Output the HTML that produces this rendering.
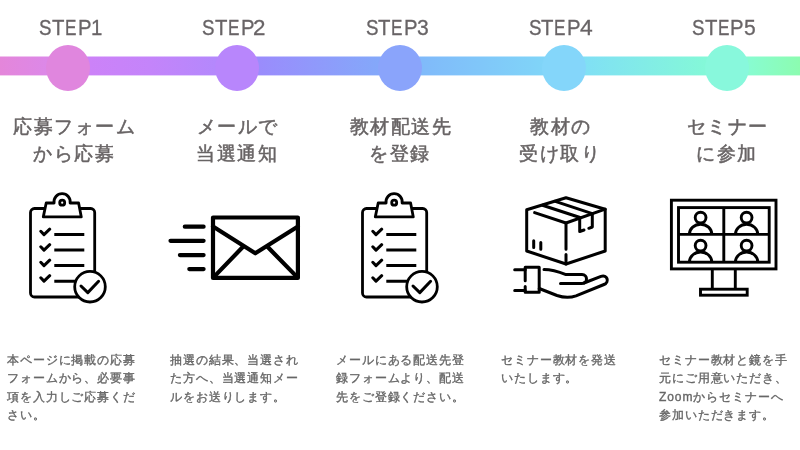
<!DOCTYPE html>
<html lang="ja">
<head>
<meta charset="utf-8">
<style>
html,body{margin:0;padding:0;background:#fff;}
body{width:800px;height:450px;overflow:hidden;position:relative;font-family:"Liberation Sans",sans-serif;color:#666;}
.st{position:absolute;left:0;top:14.8px;height:26px;width:800px;font-size:22.5px;line-height:26px;color:#686466;-webkit-text-stroke:0.3px #686466;}
.st span{position:absolute;top:0;transform-origin:0 0;white-space:pre;}
.ttl{position:absolute;top:113px;font-size:18.5px;letter-spacing:1.5px;text-indent:1.5px;line-height:27px;width:160px;text-align:center;color:#686465;white-space:nowrap;-webkit-text-stroke:0.5px #686465;}
.desc{position:absolute;top:351px;font-size:12px;letter-spacing:0.9px;line-height:18.3px;width:135px;color:#666;white-space:nowrap;-webkit-text-stroke:0.35px #666;}
svg{position:absolute;left:0;top:0;}
.st,.ttl,.desc{will-change:transform;}
</style>
</head>
<body>
<svg width="800" height="450" viewBox="0 0 800 450">
<defs>
<linearGradient id="g" x1="0" y1="0" x2="800" y2="0" gradientUnits="userSpaceOnUse">
<stop offset="0.0000" stop-color="#e486da"/>
<stop offset="0.0600" stop-color="#dc88e8"/>
<stop offset="0.1125" stop-color="#cc82f8"/>
<stop offset="0.1875" stop-color="#c484fa"/>
<stop offset="0.2687" stop-color="#b488fc"/>
<stop offset="0.3250" stop-color="#9a8cfc"/>
<stop offset="0.4725" stop-color="#84a8fa"/>
<stop offset="0.5275" stop-color="#80bafa"/>
<stop offset="0.6763" stop-color="#80d4f8"/>
<stop offset="0.7325" stop-color="#80e0f4"/>
<stop offset="0.8812" stop-color="#84f8d8"/>
<stop offset="0.9375" stop-color="#88fcd0"/>
<stop offset="1.0000" stop-color="#8cfcb0"/>
</linearGradient>
</defs>
<rect x="0" y="56.5" width="800" height="18.9" fill="url(#g)"/>
<ellipse cx="68" cy="68" rx="22" ry="23" fill="#e086de"/>
<ellipse cx="237" cy="68" rx="22" ry="23" fill="#b886fc"/>
<ellipse cx="400" cy="68" rx="22" ry="23" fill="#8aa4fb"/>
<ellipse cx="564" cy="68" rx="22" ry="23" fill="#84d6fa"/>
<ellipse cx="727" cy="68" rx="22" ry="23" fill="#88f8dc"/>

<!-- clipboard 1 -->
<g fill="none" stroke="#000" stroke-width="2.8" stroke-linecap="round" stroke-linejoin="round">
<rect x="30.5" y="208.5" width="64.2" height="88.5" rx="4"/>
<path d="M43.3 216.9 L46.2 203 L54.1 203 A8.1 8.1 0 1 1 70.1 203 L78.6 203 L81.3 216.9 Z" fill="#fff"/>
<circle cx="62.2" cy="202.7" r="2.5"/>
<path d="M40.8 231.3 L44 234.6 L49.7 229.2 M40.8 246.8 L44 250.1 L49.7 244.7 M40.8 262.3 L44 265.6 L49.7 260.2 M40.8 277.8 L44 281.1 L49.7 275.7" stroke-width="3"/>
<path d="M54.3 234.5 H84.3 M54.3 250 H84.3 M54.3 265.5 H84.3 M54.3 281.2 H80" stroke-width="3" stroke-linecap="butt"/>
<circle cx="90" cy="286.7" r="15.3" fill="#fff"/>
<path d="M81 286 L87.8 292.6 L98.6 281.3" stroke-width="3"/>
</g>

<!-- clipboard 3 -->
<g transform="translate(332 0)" fill="none" stroke="#000" stroke-width="2.8" stroke-linecap="round" stroke-linejoin="round">
<rect x="30.5" y="208.5" width="64.2" height="88.5" rx="4"/>
<path d="M43.3 216.9 L46.2 203 L54.1 203 A8.1 8.1 0 1 1 70.1 203 L78.6 203 L81.3 216.9 Z" fill="#fff"/>
<circle cx="62.2" cy="202.7" r="2.5"/>
<path d="M40.8 231.3 L44 234.6 L49.7 229.2 M40.8 246.8 L44 250.1 L49.7 244.7 M40.8 262.3 L44 265.6 L49.7 260.2 M40.8 277.8 L44 281.1 L49.7 275.7" stroke-width="3"/>
<path d="M54.3 234.5 H84.3 M54.3 250 H84.3 M54.3 265.5 H84.3 M54.3 281.2 H80" stroke-width="3" stroke-linecap="butt"/>
<circle cx="90" cy="286.7" r="15.3" fill="#fff"/>
<path d="M81 286 L87.8 292.6 L98.6 281.3" stroke-width="3"/>
</g>

<!-- envelope -->
<g fill="none" stroke="#000" stroke-width="4.2" stroke-linecap="round" stroke-linejoin="round">
<path d="M184.8 226.7 H203.6 M170.5 240.8 H203.6 M179.9 255.1 H203.6 M189.3 269.1 H203.6"/>
<rect x="213" y="217.5" width="84.9" height="60.4"/>
<path d="M213 226.5 L255.3 253.3 L297.9 226.5"/>
<path d="M213 277.9 L243 246.8 M297.9 277.9 L267.5 246.8" stroke-linecap="butt"/>
</g>

<!-- box + hand -->
<g fill="none" stroke="#000" stroke-width="3" stroke-linecap="round" stroke-linejoin="round">
<path d="M526.7 251 V209.8 L566 197.8 L605.2 209.2 V251 L566 264 Z"/>
<path d="M534.6 212.6 L566 223 L605.2 209.2"/>
<path d="M566 223 V249.2 M566 254.5 V264"/>
<path d="M542.5 205.2 L580 217.5 M555.3 201.3 L592.3 213.6"/>
<path d="M579.7 217.7 V231.5 L584 230 M592.3 214.2 V227 L588.8 228.3"/>
<path d="M533.7 240.7 V247.5 M540.8 242.4 V249.2"/>
<path d="M525.2 280.8 V267.2 H539.2 V292.2 H525.2 V286.4"/>
<path d="M514.7 269.8 H525.2 M514.7 290.4 H525.2"/>
<path d="M544 269.5 C552 269.5 557 271 566 274.6 H582 C588 274.6 588 283.4 582 283.4 H560.5"/>
<path d="M584 283 L601 276.4 C607 274 610 282 604 284.5 L576 295.8 C570 298 563 297.5 557 295.5 L539.2 288.5"/>
</g>

<!-- monitor -->
<g fill="none" stroke="#000" stroke-width="2.9">
<rect x="671.4" y="200.2" width="104.6" height="68.7"/>
<rect x="678.5" y="207.6" width="90.7" height="54.6"/>
<path d="M723.8 207.6 V262.2 M678.5 234.4 H769.2"/>
<path d="M712.3 268.9 V289.2 M735.3 268.9 V289.2"/>
<rect x="700.5" y="289.2" width="46.7" height="6"/>
<circle cx="700.6" cy="217.6" r="5.4"/>
<circle cx="746.6" cy="217.6" r="5.4"/>
<circle cx="700.6" cy="245.6" r="5.4"/>
<circle cx="746.6" cy="245.6" r="5.4"/>
<path d="M689.4 234.4 A11.2 10.2 0 0 1 711.8 234.4 M735.4 234.4 A11.2 10.2 0 0 1 757.8 234.4"/>
<path d="M689.4 262.2 A11.2 10.2 0 0 1 711.8 262.2 M735.4 262.2 A11.2 10.2 0 0 1 757.8 262.2"/>
</g>
</svg>

<div class="st"><span style="left:39.35px;transform:scaleX(0.834)">S</span><span style="left:51.94px;transform:scaleX(0.904)">T</span><span style="left:65.09px;transform:scaleX(0.763)">E</span><span style="left:77.54px;transform:scaleX(0.902)">P</span><span style="left:91.15px;transform:scaleX(0.907)">1</span></div>
<div class="st"><span style="left:202.45px;transform:scaleX(0.834)">S</span><span style="left:215.04px;transform:scaleX(0.904)">T</span><span style="left:228.19px;transform:scaleX(0.763)">E</span><span style="left:240.64px;transform:scaleX(0.902)">P</span><span style="left:253.37px;transform:scaleX(0.995)">2</span></div>
<div class="st"><span style="left:365.75px;transform:scaleX(0.834)">S</span><span style="left:378.34px;transform:scaleX(0.904)">T</span><span style="left:391.49px;transform:scaleX(0.763)">E</span><span style="left:403.94px;transform:scaleX(0.902)">P</span><span style="left:417.20px;transform:scaleX(0.937)">3</span></div>
<div class="st"><span style="left:528.65px;transform:scaleX(0.834)">S</span><span style="left:541.24px;transform:scaleX(0.904)">T</span><span style="left:554.39px;transform:scaleX(0.763)">E</span><span style="left:566.84px;transform:scaleX(0.902)">P</span><span style="left:579.58px;transform:scaleX(1.014)">4</span></div>
<div class="st"><span style="left:692.25px;transform:scaleX(0.834)">S</span><span style="left:704.84px;transform:scaleX(0.904)">T</span><span style="left:717.99px;transform:scaleX(0.763)">E</span><span style="left:730.44px;transform:scaleX(0.902)">P</span><span style="left:743.66px;transform:scaleX(0.937)">5</span></div>

<div class="ttl" style="left:-6px">応募フォーム<br>から応募</div>
<div class="ttl" style="left:157px">メールで<br>当選通知</div>
<div class="ttl" style="left:320px">教材配送先<br>を登録</div>
<div class="ttl" style="left:480px">教材の<br>受け取り</div>
<div class="ttl" style="left:647px">セミナー<br>に参加</div>

<div class="desc" style="left:7px">本ページに掲載の応募<br>フォームから、必要事<br>項を入力しご応募くだ<br>さい。</div>
<div class="desc" style="left:170px">抽選の結果、当選され<br>た方へ、当選通知メー<br>ルをお送りします。</div>
<div class="desc" style="left:336px">メールにある配送先登<br>録フォームより、配送<br>先をご登録ください。</div>
<div class="desc" style="left:501px">セミナー教材を発送<br>いたします。</div>
<div class="desc" style="left:659px">セミナー教材と鏡を手<br>元にご用意いただき、<br>Zoomからセミナーへ<br>参加いただきます。</div>
</body>
</html>
